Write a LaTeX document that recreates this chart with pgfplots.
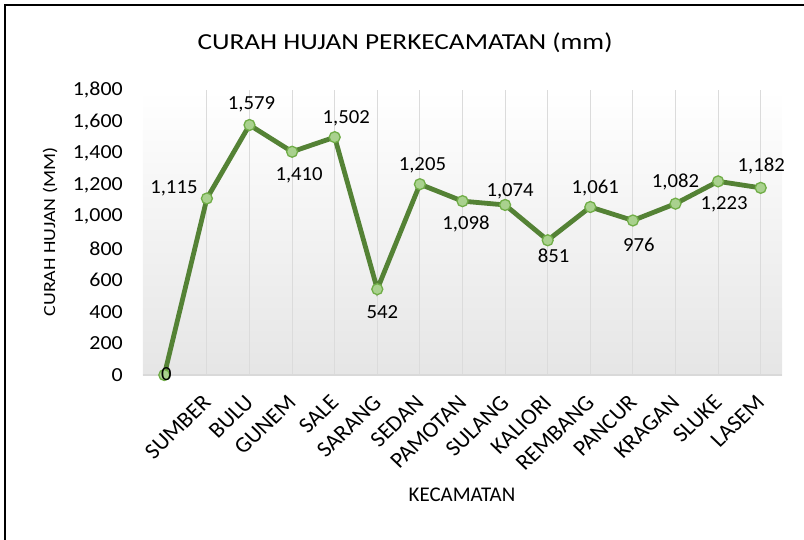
\documentclass[border=0pt]{standalone}
\usepackage{pgfplots}
\pgfplotsset{compat=1.18}
\usepackage{pgfplotstable}
\usepackage{graphicx}
\usepackage{fontspec}
\setmainfont{Carlito}
\definecolor{lineg}{HTML}{548235}
\definecolor{markf}{HTML}{A9D18E}
\definecolor{marke}{HTML}{70AD47}
\pgfplotstableread{
x y dx dy lab
0 0 2 1 0
1 1115 -33 10 1,115
2 1579 2 21 1,579
3 1410 7 -24 1,410
4 1502 11.5 18.5 1,502
5 542 5 -23 542
6 1205 2.5 18.5 1,205
7 1098 3.5 -23 1,098
8 1074 5 13.5 1,074
9 851 6 -16 851
10 1061 5 18.5 1,061
11 976 6 -24 976
12 1082 0 21.5 1,082
13 1223 6 -23 1,223
14 1182 0.5 21.5 1,182
}\datatable
\begin{document}
\begin{tikzpicture}
\useasboundingbox (-143bp,-165bp) rectangle (661bp,375bp);
\begin{axis}[
  at={(0,0)}, anchor=south west,
  scale only axis, width=639bp, height=285bp,
  xmin=-0.5, xmax=14.5, ymin=0, ymax=1800,
  ytick={0,200,...,1800},
  xtick={1,...,14},
  xticklabels={SUMBER,BULU,GUNEM,SALE,SARANG,SEDAN,PAMOTAN,SULANG,KALIORI,REMBANG,PANCUR,KRAGAN,SLUKE,LASEM},
  xmajorgrids, grid style={draw=black!14, line width=1bp},
  major tick length=0pt,
  axis line style={draw=none},
  axis background/.style={shade, top color=white, bottom color=black!10},
  yticklabel style={font=\fontsize{20}{24}\selectfont, anchor=east, inner sep=0pt, xshift=-20bp, xscale=1.1},
  xticklabel style={font=\fontsize{22.5}{24}\selectfont, inner sep=0pt, yshift=-24bp, xshift=0bp, xscale=1.04, rotate=45, anchor=east},
  /pgf/number format/.cd, 1000 sep={,}, assume math mode=true,
]
\draw[black!15, line width=1.3bp] (rel axis cs:0,0) -- (rel axis cs:1,0);
\addplot[color=lineg, line width=4.8bp, mark=*, mark size=5.5bp,
  mark options={fill=markf, draw=marke, line width=1.3bp},
  nodes near coords, point meta=explicit symbolic,
  visualization depends on={\thisrow{dx} \as \dx},
  visualization depends on={\thisrow{dy} \as \dy},
  every node near coord/.append style={anchor=center, xshift=\dx bp, yshift=\dy bp, xscale=1.04,
    font=\fontsize{20}{24}\selectfont, text=black, inner sep=0pt}
] table[x=x, y=y, meta=lab] {\datatable};
\end{axis}
\node[font=\fontsize{23}{28}\selectfont] at (262bp,332bp) {\scalebox{1.19}[1]{CURAH HUJAN PERKECAMATAN (mm)}};
\node[font=\fontsize{21}{24}\selectfont] at (319bp,-120bp) {KECAMATAN};
\node[font=\fontsize{20}{24}\selectfont, rotate=90] at (-93bp,143bp) {\scalebox{1.0}[0.85]{CURAH HUJAN (MM)}};
\draw[line width=2bp] (-138bp,-165bp) -- (-138bp,370bp) -- (661bp,370bp);
\end{tikzpicture}
\end{document}
